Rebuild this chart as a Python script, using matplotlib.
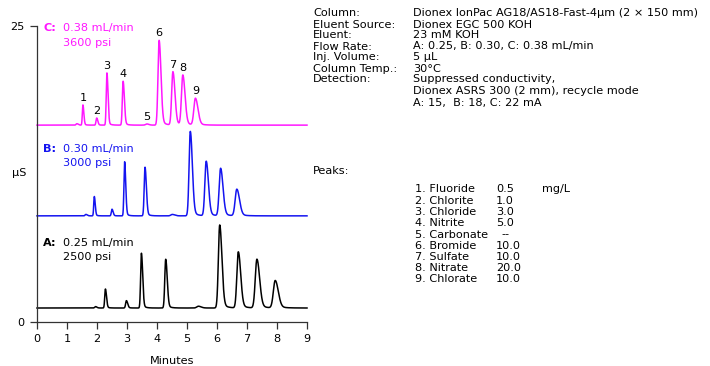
import numpy as np
import matplotlib
matplotlib.use("Agg")
import matplotlib.pyplot as plt

plt.rcParams['font.family'] = ['DejaVu Sans']

# ---------------- data ----------------
peak_numbers = ['1', '2', '3', '4', '5', '6', '7', '8', '9']

# trace C (0.38 mL/min)
c_baseline = 16.6
c_times = [1.53, 1.99, 2.33, 2.87, 3.66, 4.07, 4.53, 4.86, 5.28]
c_heights = [1.7, 0.6, 4.4, 3.7, 0.1, 7.15, 4.5, 4.2, 2.25]
c_fwhm = [0.055, 0.065, 0.065, 0.075, 0.12, 0.11, 0.12, 0.13, 0.15]
c_sys_time, c_sys_height = 1.33, 0.12

# trace B (0.30 mL/min)
b_baseline = 8.95
b_times = [1.91, 2.50, 2.92, 3.60, 4.51, 5.11, 5.64, 6.12, 6.66]
b_heights = [1.63, 0.56, 4.56, 4.1, 0.12, 7.12, 4.6, 4.0, 2.24]
b_fwhm = [0.055, 0.065, 0.065, 0.08, 0.14, 0.12, 0.13, 0.14, 0.16]
b_sys_time, b_sys_height = 1.63, 0.12

# trace A (0.25 mL/min)
a_baseline = 1.18
a_times = [2.28, 2.98, 3.48, 4.29, 5.38, 6.09, 6.71, 7.33, 7.94]
a_heights = [1.6, 0.62, 4.62, 4.11, 0.15, 7.0, 4.73, 4.11, 2.31]
a_fwhm = [0.065, 0.075, 0.075, 0.09, 0.16, 0.13, 0.14, 0.16, 0.18]
a_sys_time, a_sys_height = 1.95, 0.12

trace_labels = [('C:', '0.38 mL/min', '3600 psi'),
                ('B:', '0.30 mL/min', '3000 psi'),
                ('A:', '0.25 mL/min', '2500 psi')]
trace_colors = ['#ff17ff', '#1414f0', '#000000']

cond_labels = ['Column:', 'Eluent Source:', 'Eluent:', 'Flow Rate:', 'Inj. Volume:',
               'Column Temp.:', 'Detection:']
cond_values = ['Dionex IonPac AG18/AS18-Fast-4\u00b5m (2 \u00d7 150 mm)',
               'Dionex EGC 500 KOH', '23 mM KOH',
               'A: 0.25, B: 0.30, C: 0.38 mL/min', '5 \u00b5L', '30\u00b0C',
               'Suppressed conductivity,', 'Dionex ASRS 300 (2 mm), recycle mode',
               'A: 15,  B: 18, C: 22 mA']
peak_names = ['1. Fluoride', '2. Chlorite', '3. Chloride', '4. Nitrite', '5. Carbonate',
              '6. Bromide', '7. Sulfate', '8. Nitrate', '9. Chlorate']
peak_conc = ['0.5', '1.0', '3.0', '5.0', '--', '10.0', '10.0', '20.0', '10.0']
conc_unit = 'mg/L'

# ---------------- figure ----------------
W, H = 710, 366
FS = 8.1
fig = plt.figure(figsize=(W / 100, H / 100), dpi=100)
ax = fig.add_axes([37 / W, 1 - 322 / H, 270 / W, 296.5 / H])

t = np.linspace(0, 9, 5000)


def peak(t, t0, h, fwhm):
    s = fwhm / 2.355
    sl = s * 0.8
    sr = s * 1.3
    core = np.where(t < t0, np.exp(-0.5 * ((t - t0) / sl) ** 2),
                    np.exp(-0.5 * ((t - t0) / sr) ** 2))
    tail = np.where(t > t0, np.exp(-(t - t0) / (fwhm * 1.1)) *
                    (1 - np.exp(-0.5 * ((t - t0) / sr) ** 2)) * 0.09, 0)
    return h * (core + tail)


def trace(base, times, heights, fwhm, sys_t, sys_h):
    y = np.full_like(t, base)
    for t0, h, w in zip(times, heights, fwhm):
        y += peak(t, t0, h, w)
    y += peak(t, sys_t, sys_h, 0.08)
    return y


traces = [
    trace(c_baseline, c_times, c_heights, c_fwhm, c_sys_time, c_sys_height),
    trace(b_baseline, b_times, b_heights, b_fwhm, b_sys_time, b_sys_height),
    trace(a_baseline, a_times, a_heights, a_fwhm, a_sys_time, a_sys_height),
]
for y, col in zip(traces, trace_colors):
    ax.plot(t, y, color=col, lw=1.1, clip_on=False, solid_joinstyle='round')

# peak number labels on trace C
for num, t0, h in zip(peak_numbers, c_times, c_heights):
    ax.annotate(num, (t0, c_baseline + h), xytext=(0, 1.5), textcoords='offset points',
                ha='center', va='bottom', fontsize=FS, color='black')

ax.set_xlim(0, 9)
ax.set_ylim(0, 25)
ax.set_xticks(range(10))
ax.set_yticks([0, 25])
for side in ['top', 'right']:
    ax.spines[side].set_visible(False)
for side in ['left', 'bottom']:
    ax.spines[side].set_color('#333333')
    ax.spines[side].set_linewidth(0.9)
ax.tick_params(axis='both', direction='out', length=5, width=0.9, color='#333333',
               labelsize=FS, pad=4)
ax.set_xlabel('Minutes', fontsize=FS, labelpad=8)
ax.patch.set_alpha(0)


def ftext(x, y, s, **kw):
    fig.text(x / W, 1 - y / H, s, va='center', fontsize=FS, **kw)


lab_y = [(28, 43), (149, 163), (243, 257)]
for (l, r1, r2), (y1, y2), col in zip(trace_labels, lab_y, trace_colors):
    ftext(43, y1, l, color=col, fontweight='bold')
    ftext(63, y1, r1, color=col)
    ftext(63, y2, r2, color=col)

ftext(12, 173, '\u00b5S')

# condition text
cond_y = [13, 24.5, 35.5, 46.5, 57.5, 68.5, 79]
for s, y in zip(cond_labels, cond_y):
    ftext(313, y, s)
val_y = [13, 24.5, 35.5, 46.5, 57.5, 68.5, 79, 90.5, 103]
for s, y in zip(cond_values, val_y):
    ftext(413, y, s)

ftext(313, 171, 'Peaks:')
peak_y = [189, 200.5, 212, 223, 234.5, 246, 257, 268, 279.5]
for n, c, y in zip(peak_names, peak_conc, peak_y):
    ftext(415, y, n)
    ftext(496 if c != '--' else 501, y, c)
ftext(542, peak_y[0], conc_unit)

fig.savefig('out.png', dpi=100)
